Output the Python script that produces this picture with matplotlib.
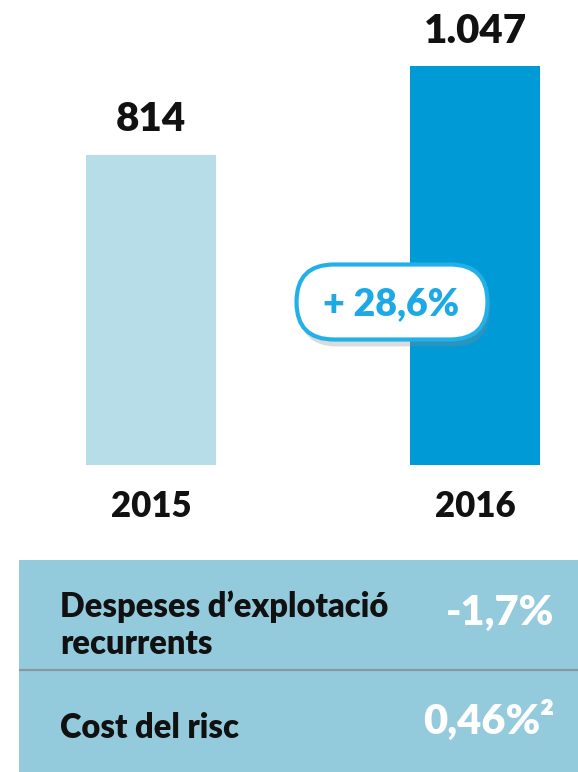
import matplotlib.pyplot as plt
from matplotlib.patches import FancyBboxPatch
import matplotlib.patheffects as pe

plt.rcParams['font.family'] = ['Lato', 'DejaVu Sans']
plt.rcParams['font.weight'] = 'bold'

years = ['2015', '2016']
values = [814, 1047]
value_labels = ['814', '1.047']
bar_colors = ['#B6DDE8', '#009AD7']

row_labels = ['Despeses d\u2019explotaci\u00f3\nrecurrents', 'Cost del risc']
row_values = ['-1,7%', '0,46%\u00b2']

W, H = 578, 772
fig = plt.figure(figsize=(W / 100, H / 100), dpi=100)

# bar chart area, baseline at y=465 px
ax = fig.add_axes([0, (H - 465) / H, 1, 457 / H])
x = [0, 1]
bars = ax.bar(x, values, width=0.401, color=bar_colors)
ax.set_xlim(-0.466, 1.318)
ax.set_ylim(0, 1200)
ax.bar_label(bars, value_labels, padding=12, fontsize=29, fontweight='heavy', color='#111111')
ax.set_xticks(x, years, fontsize=25, fontweight='heavy', color='#111111')
ax.tick_params(axis='x', length=0, pad=18)
ax.set_yticks([])
for s in ax.spines.values():
    s.set_visible(False)

# growth pill
growth = (values[1] / values[0] - 1) * 100
pill_txt = '+ ' + f'{growth:.1f}'.replace('.', ',') + '%'
cx, cy, pw, ph = 3.92, (H - 302) / 100, 1.91, 0.75
pill = FancyBboxPatch((cx - pw / 2, cy - ph / 2), pw, ph,
                      boxstyle=f'round,pad=0,rounding_size={ph / 2}',
                      transform=fig.dpi_scale_trans, facecolor='white',
                      edgecolor='#22B0E9', linewidth=3,
                      path_effects=[pe.SimplePatchShadow(offset=(2, -5), shadow_rgbFace='#888888', alpha=0.3),
                                    pe.Normal()])
fig.add_artist(pill)
fig.text(cx - 0.01, cy - 0.02, pill_txt, transform=fig.dpi_scale_trans, ha='center', va='center',
         fontsize=27, fontweight='heavy', color='#1CA9E5')

# summary table
tax = fig.add_axes([19 / W, 0, (W - 19) / W, (H - 560) / H])
tax.set_facecolor('#93CBDD')
tax.set_xlim(19, W)
tax.set_ylim(H, 560)
tax.set_xticks([])
tax.set_yticks([])
for s in tax.spines.values():
    s.set_visible(False)
tax.axhline(670, color='#8A979C', lw=1.6)

tax.text(60, 625, row_labels[0], ha='left', va='center', fontsize=23.5,
         fontweight='heavy', color='#111111', linespacing=1.2)
tax.text(60, 728, row_labels[1], ha='left', va='center', fontsize=23.5,
         fontweight='heavy', color='#111111')
tax.text(554, 613, row_values[0], ha='right', va='center', fontsize=30,
         fontweight='heavy', color='white')
tax.text(554, 720, row_values[1], ha='right', va='center', fontsize=30,
         fontweight='heavy', color='white')

fig.savefig('out.png', dpi=100)
